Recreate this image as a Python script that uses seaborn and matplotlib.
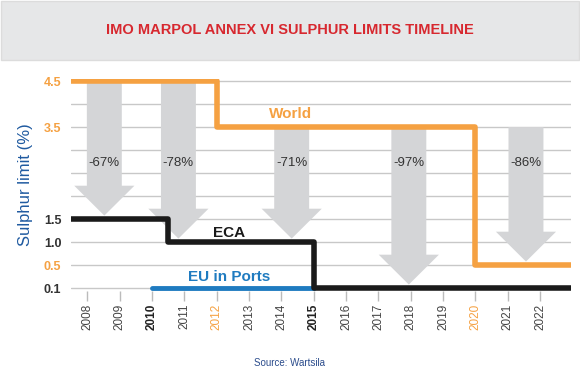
import numpy as np
import pandas as pd
import seaborn as sns
import matplotlib.pyplot as plt
from matplotlib.patches import Polygon, Rectangle

# Sulphur limit levels and where they sit on the (uneven) y axis
LEVELS = [0.1, 0.5, 1.0, 1.5, 3.5, 4.5]
LEVEL_POS = [0, 1, 2, 3, 7, 9]
LEVEL_COLORS = ["#333333", "#F5A142", "#333333", "#333333", "#F5A142", "#F5A142"]
GRID_EXTRA = [2.0, 2.5, 3.0, 4.0]

YEARS = list(range(2008, 2023))
X_START, X_END = 2007.5, 2022.95

# step series: year of change -> limit from that year
WORLD_YEARS = [X_START, 2012, 2020, X_END]
WORLD_VALUES = [4.5, 3.5, 0.5, 0.5]
ECA_YEARS = [X_START, 2010.5, 2015, X_END]
ECA_VALUES = [1.5, 1.0, 0.1, 0.1]
EU_YEARS = [2010, 2015]
EU_VALUES = [0.1, 0.1]

# reduction arrows
ARROW_X = [2008.53, 2010.82, 2014.32, 2017.94, 2021.56]
ARROW_FROM = [4.5, 4.5, 3.5, 3.5, 3.5]
ARROW_TO = [1.5, 1.0, 1.0, 0.1, 0.5]
ARROW_LABELS = ["-67%", "-78%", "-71%", "-97%", "-86%"]

ORANGE = "#F5A142"
BLUE = "#1F7BC0"

ext_lv = [-0.3] + LEVELS + [5.5]
ext_ps = [-1] + LEVEL_POS + [11]


def fwd(v):
    return np.interp(v, ext_lv, ext_ps)


def inv(p):
    return np.interp(p, ext_ps, ext_lv)


sns.set_theme(style="white")
plt.rcParams["font.family"] = ["Liberation Sans", "DejaVu Sans"]

fig = plt.figure(figsize=(5.8, 3.71), dpi=100)
ax = fig.add_axes([0.1224, 0.2156, 0.862, 0.5714])
ax.set_yscale("function", functions=(fwd, inv))

# banner
fig.patches.append(Rectangle((0.002, 1 - 60 / 371), 0.996, 59 / 371,
                             transform=fig.transFigure, facecolor="#E6E7E8",
                             edgecolor="#DCDCDC", lw=1, zorder=0))
fig.text(0.5, 1 - 30 / 371, "IMO MARPOL ANNEX VI SULPHUR LIMITS TIMELINE",
         ha="center", va="center", color="#D7282F", fontsize=10.5,
         fontweight="bold",
         family=["Liberation Sans Narrow", "Liberation Sans", "DejaVu Sans"])

# arrows
for cx, v0, v1, lab in zip(ARROW_X, ARROW_FROM, ARROW_TO, ARROW_LABELS):
    p_top = fwd(v0)
    p_tip = fwd(v1) + 0.15
    p_base = p_tip + 1.3
    hw, hh = 0.54, 0.93
    pts = [(cx - hw, inv(p_top)), (cx - hw, inv(p_base)),
           (cx - hh, inv(p_base)), (cx, inv(p_tip)),
           (cx + hh, inv(p_base)), (cx + hw, inv(p_base)),
           (cx + hw, inv(p_top))]
    ax.add_patch(Polygon(pts, closed=True, facecolor="#D4D5D7",
                         edgecolor="none", zorder=1))
    ax.text(cx, inv(5.43), lab, ha="center", va="center", fontsize=9.5,
            color="#333333", zorder=3)

world = pd.DataFrame({"year": WORLD_YEARS, "limit": WORLD_VALUES})
eca = pd.DataFrame({"year": ECA_YEARS, "limit": ECA_VALUES})
eu = pd.DataFrame({"year": EU_YEARS, "limit": EU_VALUES})

sns.lineplot(data=eu, x="year", y="limit", ax=ax, color=BLUE, lw=3.5,
             zorder=4)
sns.lineplot(data=eca, x="year", y="limit", ax=ax, color="#1A1A1A", lw=4,
             drawstyle="steps-post", zorder=5)
sns.lineplot(data=world, x="year", y="limit", ax=ax, color=ORANGE, lw=4,
             drawstyle="steps-post", zorder=5)

ax.text(2014.28, 3.785, "World", ha="center", va="center", color=ORANGE,
        fontsize=11, fontweight="bold", zorder=6)
ax.text(2012.4, 1.195, "ECA", ha="center", va="center", color="#1A1A1A",
        fontsize=11, fontweight="bold", zorder=6)
ax.text(2012.4, 0.292, "EU in Ports", ha="center", va="center", color=BLUE,
        fontsize=11, fontweight="bold", zorder=6)

ax.set_xlim(X_START, X_END)
ax.set_ylim(inv(-0.13), inv(9.09))

ax.set_yticks(LEVELS)
ax.set_yticklabels([f"{v:.1f}" for v in LEVELS])
ax.set_yticks(GRID_EXTRA, minor=True)
for lab, c in zip(ax.get_yticklabels(), LEVEL_COLORS):
    lab.set_color(c)
    lab.set_fontweight("bold")
ax.tick_params(axis="y", which="both", length=0, pad=7, labelsize=9)
ax.grid(axis="y", which="both", color="#C8C8C8", lw=1)
ax.grid(axis="x", visible=False)

ax.set_xticks(YEARS)
ax.set_xticklabels([str(y) for y in YEARS], rotation=90)
ax.tick_params(axis="x", length=7, width=1, color="#BBBBBB", direction="out",
               pad=2, labelsize=8.5, bottom=True)
for lab in ax.get_xticklabels():
    if lab.get_text() in ("2012", "2020"):
        lab.set_color(ORANGE)
    elif lab.get_text() in ("2010", "2015"):
        lab.set_color("#222222")
        lab.set_fontweight("bold")
    else:
        lab.set_color("#444444")

ax.set_xlabel("")
ax.set_ylabel("Sulphur limit (%)", color="#1F5AA0", fontsize=12, labelpad=8)
sns.despine(ax=ax, left=True, bottom=True)

fig.text(0.5, 0.022, "Source: Wartsila", ha="center", va="center",
         color="#2B4C8C", fontsize=7,
         family=["Liberation Sans Narrow", "Liberation Sans", "DejaVu Sans"])

fig.savefig("out.png", dpi=100)
